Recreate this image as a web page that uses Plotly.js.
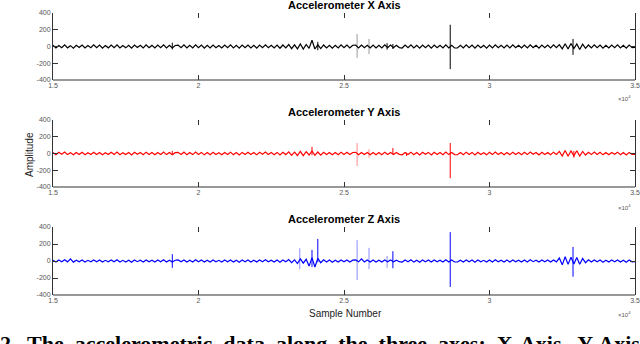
<!DOCTYPE html>
<html>
<head>
<meta charset="utf-8">
<script src="https://cdn.plot.ly/plotly-3.0.1.min.js"></script>
<style>
  html, body { margin: 0; padding: 0; background: #fff; }
  #chart { width: 640px; height: 344px; }
</style>
</head>
<body>
<div id="chart"></div>
<script>
// Baseline signal: samples 15000..35000, one value every 100 samples
const sampleStart = 15000;
const sampleStep = 100;

const accelX = [
  15,-18,12,-14,20,-16,10,-20,14,-12,18,-17,11,-15,19,-13,16,-19,12,-16,
  17,-14,20,-18,11,-16,15,-20,18,-12,14,-17,19,-15,13,-18,16,-14,21,-16,
  15,-17,12,16,-15,19,-18,14,-16,20,-13,16,-19,15,-17,18,-14,12,-18,16,
  -15,19,-17,13,-20,16,-14,18,-16,15,-19,17,-13,20,-15,14,-18,16,-21,18,
  -16,24,-26,20,-28,30,-30,24,-22,75,-30,20,-25,18,-16,15,-19,14,-17,19,
  -14,18,-16,15,17,-18,16,-15,14,-17,16,-18,14,-17,19,-15,16,-14,15,-13,
  -18,16,-14,19,-17,15,-20,18,-13,16,-19,17,-15,14,-18,20,-16,15,-16,-18,
  15,-17,19,-14,16,-20,18,-15,13,-19,17,-16,20,-14,15,-18,16,-17,19,-15,
  14,-18,17,-16,20,-13,15,-19,18,-14,16,-17,19,-15,22,-28,32,-30,35,-25,
  30,-35,28,-22,18,-16,20,-15,17,-19,14,-18,16,-13,19,-17,15,-20,16,-14,
  -12
];

const accelY = [
  12,-15,14,-10,17,-13,9,-16,12,-11,15,-14,10,-12,16,-11,13,-15,10,-13,
  14,-12,17,-15,10,-13,12,-17,15,-10,11,-14,16,-12,11,-15,13,-11,17,-13,
  12,-14,10,14,-12,16,-15,11,-13,17,-11,13,-16,12,-14,15,-11,10,-15,13,
  -12,16,-14,11,-17,13,-11,15,-13,12,-16,14,-10,17,-12,11,-15,13,-17,15,
  -13,20,-22,17,-24,26,-25,22,-18,30,-22,18,-20,15,-13,12,-16,11,-14,16,
  -11,15,-13,12,14,-15,13,-12,11,-14,13,-15,11,-14,16,-12,13,-11,12,-10,
  -15,13,-11,16,-14,12,-17,15,-10,13,-16,14,-12,11,-15,17,-13,12,-13,-15,
  12,-14,16,-11,13,-17,15,-12,10,-16,14,-13,17,-11,12,-15,13,-14,16,-12,
  11,-15,14,-13,17,-10,12,-16,15,-11,13,-14,16,-12,25,-30,35,-32,30,-28,
  32,-30,25,-18,15,-13,17,-12,14,-16,11,-15,13,-10,16,-14,12,-17,13,-11,
  -10
];

const accelZ = [
  10,-12,11,-8,14,-10,25,-13,10,-9,12,-11,8,-10,13,-9,11,-12,8,-10,
  11,-10,14,-12,8,-11,10,-14,12,-8,9,-11,13,-10,9,-12,11,-9,14,-11,
  10,-12,9,12,-10,13,-12,9,-11,14,-9,11,-13,10,-12,13,-9,8,-12,11,
  -10,13,-12,9,-14,11,-9,12,-11,10,-13,12,-8,14,-10,9,-12,11,-14,12,
  -10,16,-20,14,-30,25,-25,20,-60,40,-70,30,-20,14,-12,11,-14,10,-12,13,
  -9,12,-11,10,12,-10,25,-12,11,-12,11,-12,9,-12,13,-10,11,-9,10,-8,
  -12,11,-10,14,-13,10,-14,12,-9,11,-13,12,-10,9,-12,14,-11,11,-12,-12,
  10,-12,13,-9,11,-14,12,-10,8,-13,12,-11,14,-9,10,-12,11,-12,13,-10,
  9,-12,12,-11,14,-8,10,-13,12,-9,11,-12,13,-10,35,-45,50,-40,45,-35,
  40,-38,30,-20,14,-11,13,-10,12,-14,10,-13,11,-9,13,-12,10,-14,11,-9,
  -8
];

// Single-sample spikes: sample number, peak up, peak down
const spikeXSamples = [19100, 24100, 26480, 26680, 28650, 32870];
const spikeXUp      = [45, 55, 40, 30, 260, 90];
const spikeXDown    = [-35, -45, -38, -30, -270, -100];
const faintXSamples = [25450, 25860];
const faintXUp      = [150, 90];
const faintXDown    = [-135, -90];

const spikeYSamples = [19100, 23900, 26680, 27150, 28650, 32900];
const spikeYUp      = [30, 80, 65, 10, 125, 30];
const spikeYDown    = [-15, -20, -10, -30, -295, -50];
const faintYSamples = [25450, 25860];
const faintYUp      = [125, 50];
const faintYDown    = [-150, -50];

const spikeZSamples = [19100, 23900, 24100, 26680, 28650, 32870];
const spikeZUp      = [80, 130, 260, 115, 340, 165];
const spikeZDown    = [-80, -70, -15, -85, -305, -185];
const faintZSamples = [23480, 25450, 25860, 26480];
const faintZUp      = [150, 245, 155, 60];
const faintZDown    = [-95, -225, -95, -80];

const xTickVals = [15000, 20000, 25000, 30000, 35000];
const xTickText = ['1.5', '2', '2.5', '3', '3.5'];
const yTickVals = [-400, -200, 0, 200, 400];
const yTickText = ['-400', '-200', '0', '200', '400'];

const panelTitles = ['Accelerometer X Axis', 'Accelerometer Y Axis', 'Accelerometer Z Axis'];

const FONT = '"Liberation Sans", Arial, sans-serif';
const AXIS_COLOR = '#333';
const H = 344;
const panelRows = [[13, 80], [120, 187], [227, 295]];
const xDomain = [53 / 640, 635 / 640];

function makeXAxis(anchor) {
  return {
    domain: xDomain,
    anchor: anchor,
    range: [15000, 35000],
    tickvals: xTickVals,
    ticktext: xTickText,
    ticks: 'inside',
    ticklen: 5,
    tickcolor: AXIS_COLOR,
    showline: false,
    mirror: 'ticks',
    showgrid: false,
    zeroline: false,
    tickfont: { family: FONT, size: 7, color: '#555' }
  };
}

function makeYAxis(anchor, row) {
  return {
    domain: [1 - row[1] / H, 1 - row[0] / H],
    anchor: anchor,
    range: [-400, 400],
    tickvals: yTickVals,
    ticktext: yTickText,
    ticks: 'inside',
    ticklen: 5,
    tickcolor: AXIS_COLOR,
    showline: true,
    linecolor: AXIS_COLOR,
    linewidth: 1,
    mirror: 'ticks',
    showgrid: false,
    zeroline: false,
    tickfont: { family: FONT, size: 7, color: '#555' }
  };
}

function baseTrace(vals, i, color) {
  return {
    type: 'scatter', mode: 'lines',
    x0: sampleStart, dx: sampleStep, y: vals,
    xaxis: i === 0 ? 'x' : 'x' + (i + 1),
    yaxis: i === 0 ? 'y' : 'y' + (i + 1),
    line: { color: color, width: 1.2 },
    hoverinfo: 'skip', showlegend: false
  };
}

// vertical segments, one per spike, split with nulls
function spikeTrace(samples, up, down, i, color) {
  const xs = [], ys = [];
  samples.forEach((s, k) => {
    xs.push(s, s, null);
    ys.push(up[k], down[k], null);
  });
  return {
    type: 'scatter', mode: 'lines', x: xs, y: ys,
    xaxis: i === 0 ? 'x' : 'x' + (i + 1),
    yaxis: i === 0 ? 'y' : 'y' + (i + 1),
    line: { color: color, width: 1 },
    connectgaps: false, hoverinfo: 'skip', showlegend: false
  };
}

const traces = [
  spikeTrace(faintXSamples, faintXUp, faintXDown, 0, '#9a9a9a'),
  baseTrace(accelX, 0, '#000000'),
  spikeTrace(spikeXSamples, spikeXUp, spikeXDown, 0, '#000000'),
  spikeTrace(faintYSamples, faintYUp, faintYDown, 1, '#ff8c8c'),
  baseTrace(accelY, 1, '#ff0000'),
  spikeTrace(spikeYSamples, spikeYUp, spikeYDown, 1, '#ff0000'),
  spikeTrace(faintZSamples, faintZUp, faintZDown, 2, '#8c8cff'),
  baseTrace(accelZ, 2, '#0000ff'),
  spikeTrace(spikeZSamples, spikeZUp, spikeZDown, 2, '#0000ff')
];

const layout = {
  width: 640,
  height: 344,
  margin: { l: 0, r: 0, t: 0, b: 0 },
  paper_bgcolor: '#fff',
  plot_bgcolor: '#fff',
  showlegend: false,
  xaxis: makeXAxis('y'),
  yaxis: makeYAxis('x', panelRows[0]),
  xaxis2: makeXAxis('y2'),
  yaxis2: makeYAxis('x2', panelRows[1]),
  xaxis3: makeXAxis('y3'),
  yaxis3: makeYAxis('x3', panelRows[2]),
  shapes: [],
  annotations: []
};

// bottom axis lines (top edge left open like the source figure)
['x', 'x2', 'x3'].forEach((ax, i) => {
  const yref = i === 0 ? 'y domain' : 'y' + (i + 1) + ' domain';
  layout.shapes.push({
    type: 'line', xref: ax + ' domain', yref: yref,
    x0: 0, x1: 1, y0: 0, y1: 0,
    line: { color: AXIS_COLOR, width: 1 }
  });
});

const titleRows = [5, 112, 219];
const expRows = [98, 207, 314];
panelTitles.forEach((t, i) => {
  layout.annotations.push({
    text: '<b>' + t + '</b>', xref: 'paper', yref: 'paper',
    x: 344 / 640, y: 1 - titleRows[i] / H, xanchor: 'center', yanchor: 'middle',
    showarrow: false, font: { family: FONT, size: 11, color: '#000' }
  });
  layout.annotations.push({
    text: '×10<sup>4</sup>', xref: 'paper', yref: 'paper',
    x: 633 / 640, y: 1 - expRows[i] / H, xanchor: 'right', yanchor: 'middle',
    showarrow: false, font: { family: FONT, size: 6, color: '#555' }
  });
});

layout.annotations.push({
  text: 'Amplitude', xref: 'paper', yref: 'paper',
  x: 29 / 640, y: 1 - 155 / H, textangle: -90,
  xanchor: 'center', yanchor: 'middle', showarrow: false,
  font: { family: FONT, size: 10, color: '#222' }
});
layout.annotations.push({
  text: 'Sample Number', xref: 'paper', yref: 'paper',
  x: 345 / 640, y: 1 - 313 / H, xanchor: 'center', yanchor: 'middle',
  showarrow: false, font: { family: FONT, size: 10, color: '#222' }
});

// caption of the paper figure, cut off by the image edge
layout.annotations.push({
  text: '<b>2.  The  accelerometric  data  along  the  three  axes:  X-Axis,  Y-Axis</b>',
  xref: 'paper', yref: 'paper',
  x: -2 / 640, y: 1 - 329 / H, xanchor: 'left', yanchor: 'top',
  showarrow: false, font: { family: '"Liberation Serif", "DejaVu Serif", serif', size: 22, color: '#000' }
});

Plotly.newPlot('chart', traces, layout, { staticPlot: true, displayModeBar: false });
</script>
</body>
</html>
